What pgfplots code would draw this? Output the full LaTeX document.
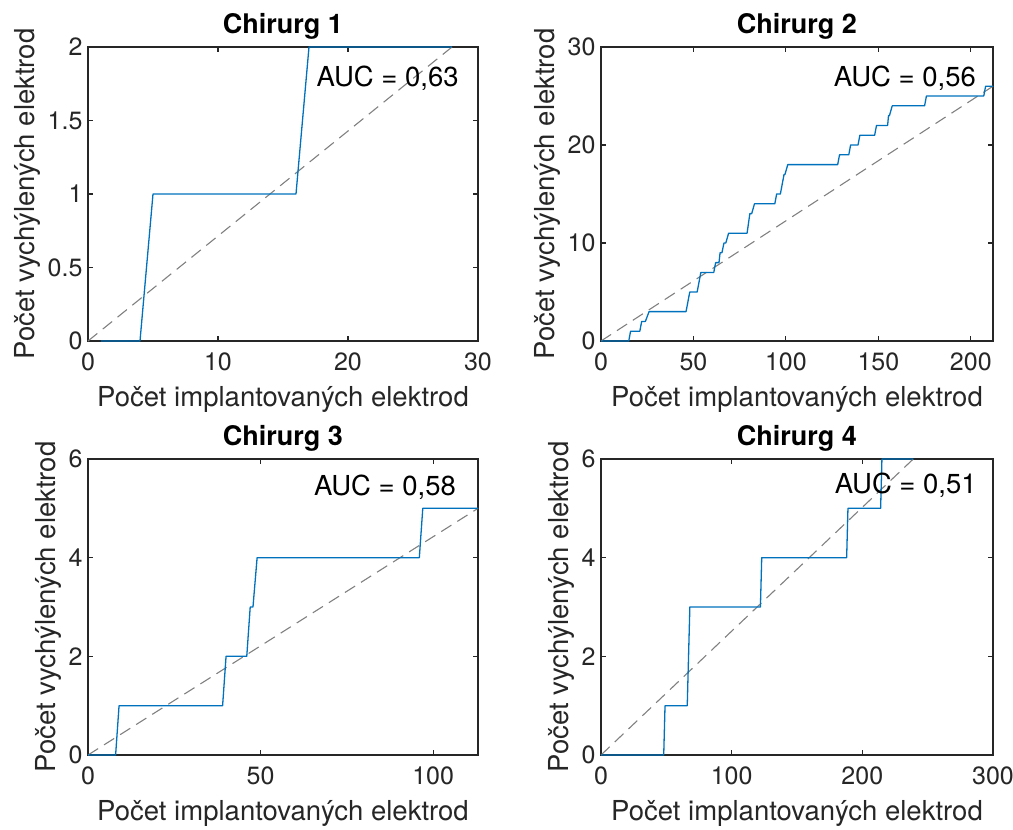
\documentclass[border=0pt]{standalone}
\usepackage{fontspec}
\setmainfont{TeX Gyre Heros}
\usepackage{pgfplots}
\pgfplotsset{compat=1.18}

\definecolor{mblue}{rgb}{0,0.447,0.741}
\definecolor{axgray}{rgb}{0.15,0.15,0.15}
\definecolor{diag}{rgb}{0.5,0.5,0.5}

\pgfplotsset{
  chir/.style={
    scale only axis, width=390pt, height=294pt,
    anchor=north west,
    axis line style={axgray, line width=1.1pt},
    every tick/.style={axgray, line width=1.1pt},
    tick align=inside, major tick length=5pt,
    ticklabel style={font=\fontsize{25}{30}\selectfont, text=axgray},
    xticklabel style={yshift=-8pt},
    yticklabel style={xshift=-2pt},
    label style={font=\fontsize{27.5}{33}\selectfont, text=axgray},
    xlabel style={yshift=-9pt},
    title style={font=\bfseries\fontsize{27}{32}\selectfont, yshift=-2pt},
    xlabel={Počet implantovaných elektrod},
    ylabel={Počet vychýlených elektrod},
    /pgf/number format/assume math mode=true,
    clip=false,
  },
  roc/.style={mblue, line width=1.3pt, line join=round},
  ref/.style={diag, line width=1.1pt, dash pattern=on 12pt off 7pt},
}
\tikzset{auc/.style={anchor=base east, inner sep=0pt, font=\fontsize{27.5}{33}\selectfont}}

\begin{document}
\begin{tikzpicture}
\path[use as bounding box] (0,0) rectangle (1013pt,-830pt);

% Chirurg 1
\begin{axis}[chir, at={(88pt,-47pt)}, title={Chirurg 1},
  xmin=0, xmax=30, ymin=0, ymax=2,
  xtick={0,10,20,30}, ytick={0,0.5,1,1.5,2}]
\addplot[ref] coordinates {(0,0) (28,2)};
\addplot[roc] coordinates {(1,0) (4,0) (5,1) (16,1) (17,2) (28,2)};
\node[auc] at (rel axis cs:0.951,0.867) {AUC = 0,63};
\end{axis}

% Chirurg 2
\begin{axis}[chir, at={(601pt,-47pt)}, title={Chirurg 2},
  width=392pt,
  xmin=0, xmax=212, ymin=0, ymax=30,
  xtick={0,50,100,150,200}, ytick={0,10,20,30}]
\addplot[ref] coordinates {(0,0) (212,26)};
\addplot[roc] coordinates {
  (0,0) (15,0) (16,1) (21,1) (22,2) (24,2) (26,3) (46,3) (48,5) (52,5)
  (54,7) (61,7) (62,8) (63.8,8) (64.4,9) (65.4,9) (66.5,10) (67.5,10)
  (69,11) (79,11) (80.5,13) (81.5,13) (83,14) (94,14) (95,15) (97,15)
  (99,17) (99.5,17) (101,18) (128,18) (129,19) (134,19) (135,20) (139,20)
  (140,21) (148,21) (149,22) (155,22) (155.5,23) (156,23) (157.5,24)
  (175,24) (176,25) (207,25) (208,26) (212,26)};
\node[auc] at (rel axis cs:0.957,0.867) {AUC = 0,56};
\end{axis}

% Chirurg 3
\begin{axis}[chir, at={(88pt,-459pt)}, title={Chirurg 3},
  height=296pt,
  xmin=0, xmax=113, ymin=0, ymax=6,
  xtick={0,50,100}, ytick={0,2,4,6}]
\addplot[ref] coordinates {(0,0) (113,5)};
\addplot[roc] coordinates {(0,0) (8,0) (9,1) (39,1) (40,2) (46,2) (47,3)
  (47.8,3) (49,4) (96,4) (97,5) (113,5)};
\node[auc] at (rel axis cs:0.944,0.878) {AUC = 0,58};
\end{axis}

% Chirurg 4
\begin{axis}[chir, at={(601pt,-459pt)}, title={Chirurg 4},
  width=392pt, height=296pt,
  xmin=0, xmax=300, ymin=0, ymax=6,
  xtick={0,100,200,300}, ytick={0,2,4,6}]
\addplot[ref] coordinates {(0,0) (239,6)};
\addplot[roc] coordinates {(0,0) (48,0) (49,1) (66,1) (68,3) (122,3)
  (123,4) (188,4) (189,5) (214,5) (215,6) (239,6)};
\node[auc] at (rel axis cs:0.959,0.882) {AUC = 0,51};
\end{axis}
\end{tikzpicture}
\end{document}
